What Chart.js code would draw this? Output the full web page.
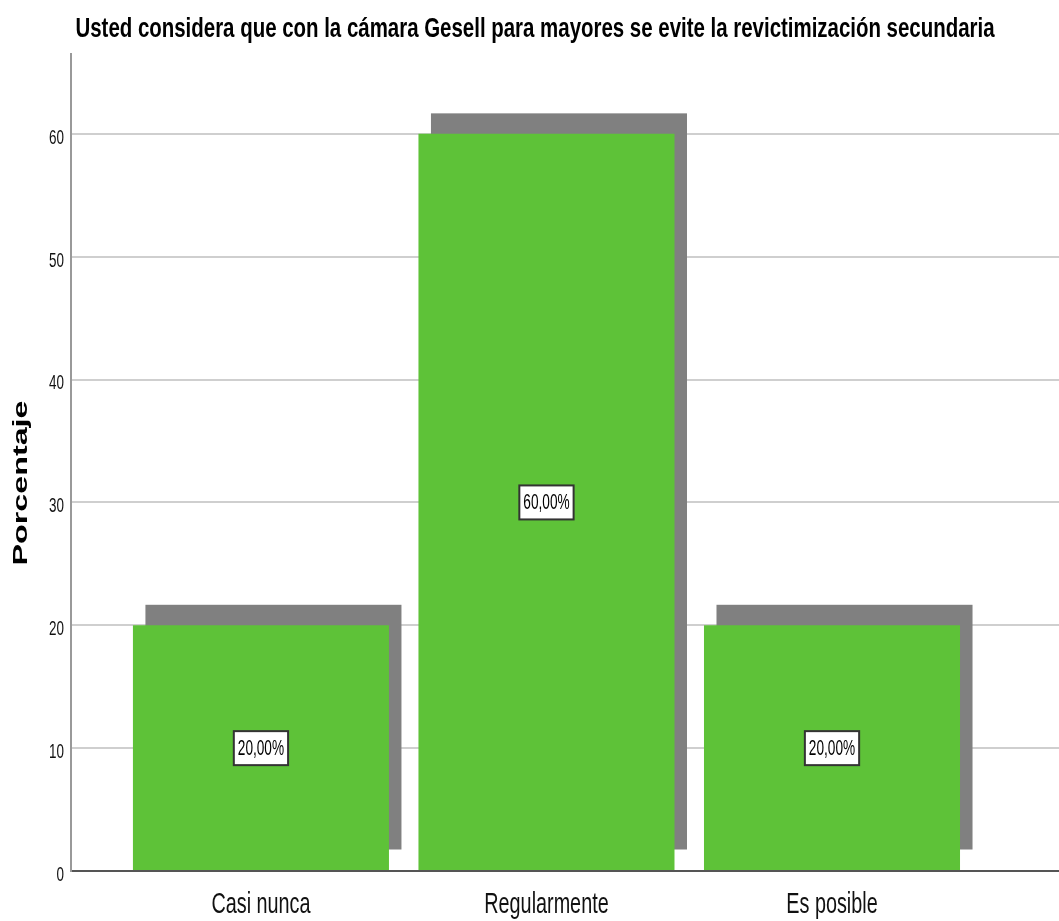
<!doctype html>
<html lang="es">
<head>
<meta charset="utf-8">
<script src="https://cdn.jsdelivr.net/npm/chart.js"></script>
<style>
  body { margin: 0; background: #fff; }
  #wrap { width: 1059px; height: 921px; }
</style>
</head>
<body>
<div id="wrap"><canvas id="barChart"></canvas></div>
<script>
  // datos
  var categorias = ['Casi nunca', 'Regularmente', 'Es posible'];
  var porcentajes = [20, 60, 20];
  var etiquetas = ['20,00%', '60,00%', '20,00%'];
  var ticksY = [0, 10, 20, 30, 40, 50, 60];

  var titulo = 'Usted considera que con la cámara Gesell para mayores se evite la revictimización secundaria';
  var tituloY = 'Porcentaje';

  var sans = "'Liberation Sans', Arial, sans-serif";

  // texto estrecho (el original usa letras comprimidas)
  function textoEstrecho(ctx, txt, x, y, font, sx, align, baseline) {
    ctx.save();
    ctx.font = font;
    ctx.translate(x, y);
    ctx.scale(sx, 1);
    ctx.textAlign = align;
    ctx.textBaseline = baseline;
    ctx.fillText(txt, 0, 0);
    ctx.restore();
  }

  // sombra gris desplazada detrás de cada barra
  var sombra = {
    id: 'sombra',
    beforeDatasetsDraw: function(chart) {
      var ctx = chart.ctx;
      ctx.save();
      ctx.fillStyle = '#808080';
      chart.getDatasetMeta(0).data.forEach(function(bar) {
        var p = bar.getProps(['x', 'y', 'base', 'width'], true);
        ctx.fillRect(p.x - p.width / 2 + 12.5, p.y - 20.5, p.width, p.base - p.y);
      });
      ctx.restore();
    }
  };

  // cajas con el porcentaje en el centro de cada barra
  var cajas = {
    id: 'cajas',
    afterDatasetsDraw: function(chart) {
      var ctx = chart.ctx;
      var yScale = chart.scales.y;
      chart.getDatasetMeta(0).data.forEach(function(bar, i) {
        var cy = yScale.getPixelForValue(porcentajes[i] / 2);
        ctx.save();
        ctx.font = '22px ' + sans;
        var w = ctx.measureText(etiquetas[i]).width * 0.62 + 8;
        var h = 34;
        ctx.fillStyle = '#fff';
        ctx.fillRect(bar.x - w / 2, cy - h / 2, w, h);
        ctx.strokeStyle = '#333';
        ctx.lineWidth = 2;
        ctx.strokeRect(bar.x - w / 2, cy - h / 2, w, h);
        ctx.fillStyle = '#000';
        textoEstrecho(ctx, etiquetas[i], bar.x, cy + 1, '22px ' + sans, 0.62, 'center', 'middle');
        ctx.restore();
      });
    }
  };

  // título, etiquetas de los ejes y título del eje Y
  var textos = {
    id: 'textos',
    afterDraw: function(chart) {
      var ctx = chart.ctx;
      var xs = chart.scales.x;
      var ys = chart.scales.y;
      ctx.save();
      ctx.fillStyle = '#000';
      textoEstrecho(ctx, titulo, 535, 36.5, 'bold 28px ' + sans, 0.73, 'center', 'alphabetic');

      ctx.fillStyle = '#111';
      xs.ticks.forEach(function(t) {
        textoEstrecho(ctx, t.label, xs.getPixelForValue(t.value), 913, '30px ' + sans, 0.66, 'center', 'alphabetic');
      });
      ys.ticks.forEach(function(t) {
        textoEstrecho(ctx, t.label, 64, ys.getPixelForValue(t.value) + 4, '21px ' + sans, 0.64, 'right', 'middle');
      });

      ctx.font = 'bold 21px ' + sans;
      var w = ctx.measureText(tituloY).width;
      ctx.translate(21, 483);
      ctx.rotate(-Math.PI / 2);
      ctx.scale(165 / w, 1);
      ctx.textAlign = 'center';
      ctx.textBaseline = 'middle';
      ctx.fillStyle = '#000';
      ctx.fillText(tituloY, 0, 0);
      ctx.restore();
    }
  };

  var ctx = document.getElementById('barChart').getContext('2d');
  window.myBar = new Chart(ctx, {
    type: 'bar',
    data: {
      datasets: [{
        label: tituloY,
        data: porcentajes.map(function(v, i) { return { x: i, y: v }; }),
        backgroundColor: 'rgb(94, 194, 56)',
        borderWidth: 0,
        categoryPercentage: 1,
        barPercentage: 0.8967
      }]
    },
    options: {
      responsive: true,
      maintainAspectRatio: false,
      animation: false,
      layout: { padding: { left: 0, right: 0, top: 54, bottom: 0 } },
      plugins: {
        legend: { display: false },
        tooltip: { enabled: false },
        title: { display: false }
      },
      scales: {
        x: {
          type: 'linear',
          offset: false,
          min: -0.667,
          max: 2.795,
          afterBuildTicks: function(axis) {
            axis.ticks = categorias.map(function(c, i) { return { value: i }; });
          },
          afterFit: function(axis) { axis.height = 50; },
          ticks: {
            display: false,
            callback: function(v) { return categorias[v]; },
            autoSkip: false
          },
          grid: { display: false, drawTicks: false },
          border: { display: true, color: '#555', width: 2 }
        },
        y: {
          min: 0,
          max: 66.5,
          afterBuildTicks: function(axis) {
            axis.ticks = ticksY.map(function(v) { return { value: v }; });
          },
          afterFit: function(axis) { axis.width = 70.5; },
          ticks: { display: false },
          grid: {
            color: function(c) { return c.tick && c.tick.value === 0 ? 'rgba(0,0,0,0)' : '#cfcfcf'; },
            lineWidth: 2,
            drawTicks: false
          },
          border: { display: true, color: '#999', width: 2 }
        }
      }
    },
    plugins: [sombra, cajas, textos]
  });
</script>
</body>
</html>
